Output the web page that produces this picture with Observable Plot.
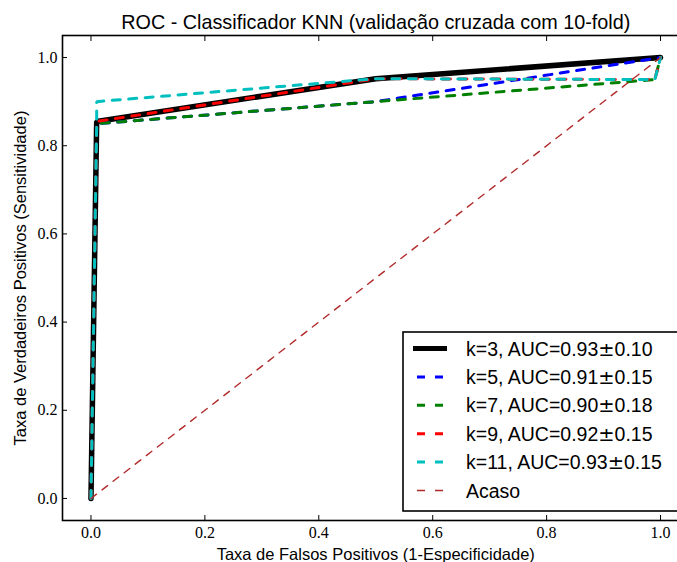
<!DOCTYPE html>
<html><head><meta charset="utf-8">
<script src="https://cdn.jsdelivr.net/npm/d3@7"></script>
<script src="https://cdn.jsdelivr.net/npm/@observablehq/plot@0.6"></script>
<style>html,body{margin:0;padding:0;background:#fff;overflow:hidden}</style>
</head><body><div id="chart"></div>
<script>
const title = "ROC - Classificador KNN (validação cruzada com 10-fold)";
const xLabel = "Taxa de Falsos Positivos (1-Especificidade)";
const yLabel = "Taxa de Verdadeiros Positivos (Sensitividade)";
const tickValues = [0, 0.2, 0.4, 0.6, 0.8, 1.0];

const seriesNames = ["k=3, AUC=0.93\u00b10.10", "k=5, AUC=0.91\u00b10.15", "k=7, AUC=0.90\u00b10.18", "k=9, AUC=0.92\u00b10.15", "k=11, AUC=0.93\u00b10.15"];
const seriesColors = ["#000000", "#0000ff", "#008000", "#ff0000", "#00bfbf"];
const chanceName = "Acaso";
const chanceColor = "#b22b2b";

const fprK3 = [0, 0.01, 0.5, 1.0];
const tprK3 = [0, 0.855, 0.952, 1.0];
const fprK5 = [0, 0.01, 0.5, 1.0];
const tprK5 = [0, 0.85, 0.90, 1.0];
const fprK7 = [0, 0.01, 0.5, 0.99, 1.0];
const tprK7 = [0, 0.85, 0.90, 0.95, 1.0];
const fprK9 = [0, 0.01, 0.5, 0.99, 1.0];
const tprK9 = [0, 0.855, 0.952, 0.95, 1.0];
const fprK11 = [0, 0.01, 0.01, 0.5, 0.99, 1.0];
const tprK11 = [0, 0.85, 0.90, 0.952, 0.95, 1.0];
const fprChance = [0, 1];
const tprChance = [0, 1];

const fprs = [fprK3, fprK5, fprK7, fprK9, fprK11];
const tprs = [tprK3, tprK5, tprK7, tprK9, tprK11];
const rows = fprs.map((fx, i) => fx.map((x, j) => ({x, y: tprs[i][j]})));
const chanceRows = fprChance.map((x, j) => ({x, y: tprChance[j]}));

const marks = [];
rows.forEach((r, i) => {
  if (i === 0) marks.push(Plot.line(r, {x: "x", y: "y", stroke: seriesColors[i], strokeWidth: 5.5, strokeLinejoin: "miter"}));
  else marks.push(Plot.line(r, {x: "x", y: "y", stroke: seriesColors[i], strokeWidth: 3, strokeDasharray: "8,8.5", strokeLinejoin: "miter"}));
});
marks.push(Plot.line(chanceRows, {x: "x", y: "y", stroke: chanceColor, strokeWidth: 1.4, strokeDasharray: "7,7"}));

const fmt = d3.format(".1f");
const plot = Plot.plot({
  width: 677, height: 562,
  marginLeft: 62, marginRight: -11.5, marginTop: 35, marginBottom: 42,
  style: {fontFamily: "Liberation Serif", fontSize: "16px", background: "#fff", overflow: "hidden"},
  x: {domain: [-0.05, 1.05]},
  y: {domain: [-0.05, 1.05]},
  marks: [
    ...marks,
    Plot.frame({stroke: "#000", strokeWidth: 1.6}),
    Plot.axisX({ticks: tickValues, tickSize: 0, tickPadding: 6, tickFormat: fmt, label: null, fontSize: 16}),
    Plot.axisX({ticks: tickValues, tickSize: -5, tickFormat: () => "", label: null}),
    Plot.axisX({ticks: tickValues, anchor: "top", tickSize: -5, tickFormat: () => "", label: null}),
    Plot.axisY({ticks: tickValues, tickSize: 0, tickPadding: 5, tickFormat: fmt, label: null, fontSize: 16}),
    Plot.axisY({ticks: tickValues, tickSize: -5, tickFormat: () => "", label: null}),
    Plot.axisY({ticks: tickValues, anchor: "right", tickSize: -5, tickFormat: () => "", label: null}),
    Plot.text([title], {frameAnchor: "top", lineAnchor: "middle", textAnchor: "middle", dy: -13, fontFamily: "Liberation Sans", fontSize: 19.8, fill: "#000"}),
    Plot.text([xLabel], {frameAnchor: "bottom", lineAnchor: "middle", textAnchor: "middle", dy: 34.5, fontFamily: "Liberation Sans", fontSize: 16.5, fill: "#000"}),
    Plot.text([yLabel], {frameAnchor: "left", lineAnchor: "middle", textAnchor: "middle", dx: -42, rotate: -90, fontFamily: "Liberation Sans", fontSize: 16.5, fill: "#000"})
  ]
});
document.getElementById("chart").appendChild(plot);

// Legend
const svg = d3.select(plot);
const lg = svg.append("g").attr("font-family", "Liberation Sans").attr("font-size", 19.5).attr("text-anchor", "start");
lg.append("rect").attr("x", 403).attr("y", 332).attr("width", 290).attr("height", 179)
  .attr("fill", "#fff").attr("stroke", "#000").attr("stroke-width", 1.6);
const entries = seriesNames.map((n, i) => ({name: n, color: seriesColors[i], solid: i === 0, w: i === 0 ? 5 : 3}))
  .concat([{name: chanceName, color: chanceColor, solid: false, w: 1.5}]);
entries.forEach((e, i) => {
  const cy = 348.5 + i * 28.4;
  if (e.solid) lg.append("line").attr("x1", 413).attr("x2", 447).attr("y1", cy).attr("y2", cy).attr("stroke", e.color).attr("stroke-width", e.w);
  else lg.append("line").attr("x1", 417).attr("x2", 443).attr("y1", cy).attr("y2", cy).attr("stroke", e.color).attr("stroke-width", e.w).attr("stroke-dasharray", "8,10");
  const t = lg.append("text").attr("x", 466).attr("y", cy).attr("dy", "0.36em").attr("fill", "#000");
  const parts = e.name.split("\u00b1");
  t.append("tspan").text(parts[0]);
  if (parts.length > 1) {
    t.append("tspan").attr("font-family", "DejaVu Sans").text("\u00b1");
    t.append("tspan").text(parts[1]);
  }
});
</script></body></html>
